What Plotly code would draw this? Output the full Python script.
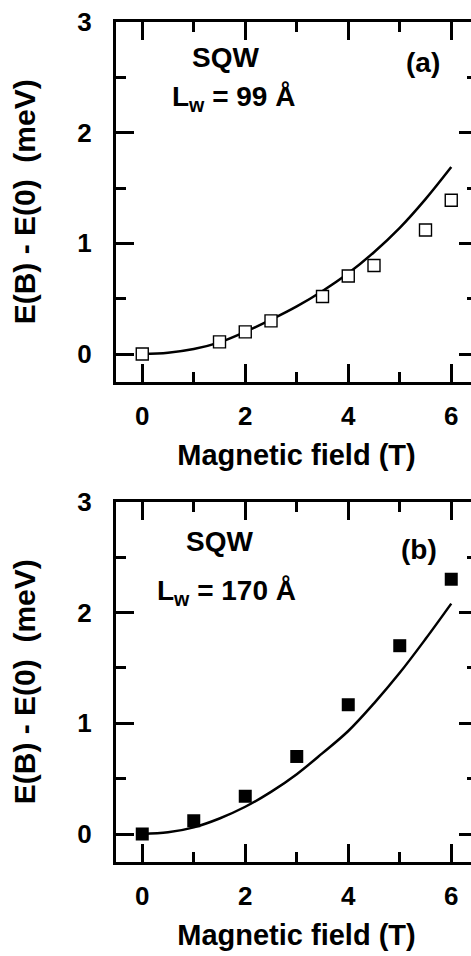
import plotly.graph_objects as go

# ---- data ----
field_a = [0, 1.5, 2, 2.5, 3.5, 4, 4.5, 5.5, 6]
energy_a = [0, 0.11, 0.20, 0.30, 0.52, 0.705, 0.80, 1.12, 1.39]
fit_x_a = [0, 0.5, 1, 1.5, 2, 2.5, 3, 3.5, 4, 4.5, 5, 5.5, 6]
fit_y_a = [0, 0.012, 0.045, 0.105, 0.20, 0.31, 0.43, 0.57, 0.73, 0.92, 1.14, 1.40, 1.69]

field_b = [0, 1, 2, 3, 4, 5, 6]
energy_b = [0, 0.12, 0.34, 0.70, 1.167, 1.70, 2.30]
fit_x_b = [0, 0.5, 1, 1.5, 2, 2.5, 3, 3.5, 4, 4.5, 5, 5.5, 6]
fit_y_b = [0, 0.015, 0.06, 0.14, 0.246, 0.38, 0.54, 0.73, 0.93, 1.18, 1.455, 1.76, 2.08]

x_ticks = [0, 2, 4, 6]
y_ticks = [0, 1, 2, 3]

FONT = "Liberation Sans, Arial, Helvetica, sans-serif"
# the reference frame is cut off just past its right edge: the figure is a bit
# wider than the 471 px window and the overflow is hidden
W, H = 477, 956

fig = go.Figure()

fig.add_trace(go.Scatter(x=fit_x_a, y=fit_y_a, mode="lines", line=dict(color="black", width=2.5, shape="spline"),
                         xaxis="x", yaxis="y", showlegend=False, hoverinfo="skip"))
fig.add_trace(go.Scatter(x=field_a, y=energy_a, mode="markers",
                         marker=dict(symbol="square", size=12, color="white", line=dict(color="black", width=1.4)),
                         xaxis="x", yaxis="y", showlegend=False))
fig.add_trace(go.Scatter(x=fit_x_b, y=fit_y_b, mode="lines", line=dict(color="black", width=2.5, shape="spline"),
                         xaxis="x2", yaxis="y2", showlegend=False, hoverinfo="skip"))
fig.add_trace(go.Scatter(x=field_b, y=energy_b, mode="markers",
                         marker=dict(symbol="square", size=13, color="black", line=dict(color="black", width=0)),
                         xaxis="x2", yaxis="y2", showlegend=False))

x_left = 116 / W
def ydom(top_px, bot_px):
    return [1 - bot_px / H, 1 - top_px / H]

tf = dict(family=FONT, size=26, color="black", weight="bold")

xax = dict(
    range=[-0.51, 6.5], domain=[x_left, 1.0], automargin=False,
    showline=True, linecolor="black", linewidth=3, mirror="ticks",
    ticks="inside", ticklen=18, tickwidth=2.5, tickcolor="black",
    tickvals=x_ticks, ticktext=[str(v) for v in x_ticks],
    minor=dict(ticks="inside", ticklen=10, tickwidth=2.5, tickcolor="black", dtick=1, tick0=0),
    showgrid=False, zeroline=False, tickfont=tf, ticklabelstandoff=9,
    title=dict(text="Magnetic field (T)", font=dict(family=FONT, size=29, color="black", weight="bold"), standoff=15),
)
yax = dict(
    range=[-0.25, 3], automargin=False,
    showline=True, linecolor="black", linewidth=3, mirror="ticks",
    ticks="inside", ticklen=18, tickwidth=2.5, tickcolor="black",
    tickvals=y_ticks, ticktext=[str(v) for v in y_ticks],
    minor=dict(ticks="inside", ticklen=10, tickwidth=2.5, tickcolor="black", dtick=0.5, tick0=0),
    showgrid=False, zeroline=False, tickfont=tf, ticklabelstandoff=16,
    title=dict(text="E(B) - E(0)  (meV)", font=dict(family=FONT, size=30, color="black", weight="bold"), standoff=33),
)

fig.update_layout(
    width=W, height=H, margin=dict(l=0, r=0, t=0, b=0),
    paper_bgcolor="white", plot_bgcolor="white",
    xaxis=dict(xax, anchor="y"),
    yaxis=dict(yax, anchor="x", domain=ydom(22, 381.7)),
    xaxis2=dict(xax, anchor="y2"),
    yaxis2=dict(yax, anchor="x2", domain=ydom(501.7, 861.7)),
)

ann_font = dict(family=FONT, size=28, color="black", weight="bold")
anns = [
    ("SQW", 1.61, 2.68, "x", "y", "center"),
    ("(a)", 5.45, 2.63, "x", "y", "center"),
    ("L<sub>w</sub> = 99 Å", 0.54, 2.31, "x", "y", "left"),
    ("SQW", 1.50, 2.64, "x2", "y2", "center"),
    ("(b)", 5.37, 2.57, "x2", "y2", "center"),
    ("L<sub>w</sub> = 170 Å", 0.25, 2.18, "x2", "y2", "left"),
]
for text, ax_x, ax_y, xr, yr, xa in anns:
    fig.add_annotation(text=text, x=ax_x, y=ax_y, xref=xr, yref=yr, xanchor=xa, yanchor="middle",
                       showarrow=False, font=ann_font)

fig.write_html(
    "out.html",
    post_script="document.documentElement.style.overflow='hidden';document.body.style.overflow='hidden';document.body.style.margin='0';",
)
